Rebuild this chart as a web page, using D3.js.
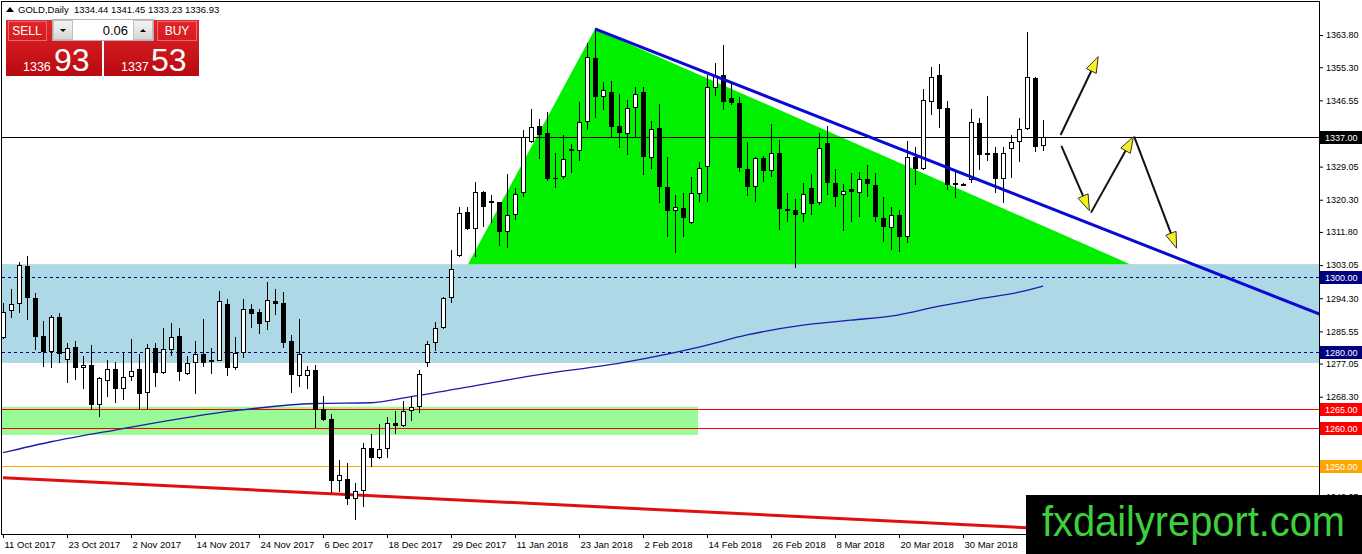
<!DOCTYPE html>
<html><head><meta charset="utf-8">
<script src="https://cdn.jsdelivr.net/npm/d3@7"></script>
<style>
html,body{margin:0;padding:0;background:#fff;overflow:hidden;}
svg{display:block;font-family:"Liberation Sans",Arial,sans-serif;}
</style></head><body>
<svg id="c" width="1362" height="554"></svg>
<script>
// ---------------- DATA ----------------
const dateLabels=["11 Oct 2017","23 Oct 2017","2 Nov 2017","14 Nov 2017","24 Nov 2017","6 Dec 2017","18 Dec 2017","29 Dec 2017","11 Jan 2018","23 Jan 2018","2 Feb 2018","14 Feb 2018","26 Feb 2018","8 Mar 2018","20 Mar 2018","30 Mar 2018"];
const labelIdx=[0,8,16,24,32,40,48,56,64,72,80,88,96,104,112,120];
const opens=[1283.79,1291.0,1292.7,1302.8,1294.3,1284.3,1280.2,1289.25,1278.0,1281.3,1275.8,1276.7,1266.1,1272.4,1275.5,1270.2,1273.6,1275.5,1269.2,1281.1,1274.5,1280.6,1284.3,1274.3,1277.3,1279.6,1277.4,1277.8,1292.8,1275.8,1279.75,1291.35,1290.7,1288.1,1293.55,1293.1,1283.0,1273.75,1273.75,1275.35,1265.0,1262.3,1246.1,1246.5,1241.2,1243.5,1254.65,1252.0,1254.4,1261.25,1260.55,1264.6,1265.65,1277.3,1282.4,1286.35,1294.3,1305.45,1316.95,1312.5,1322.25,1319.95,1319.6,1311.85,1316.3,1322.0,1335.6,1339.75,1337.85,1326.15,1326.2,1333.25,1333.15,1340.75,1357.65,1347.35,1348.8,1339.75,1337.7,1344.45,1348.8,1331.25,1339.3,1323.6,1317.4,1318.05,1314.25,1321.8,1328.85,1349.7,1353.25,1347.1,1345.8,1328.35,1323.75,1331.25,1327.95,1332.55,1317.75,1317.6,1316.5,1323.3,1319.35,1335.2,1324.8,1321.55,1323.05,1322.15,1325.7,1324.2,1315.4,1312.75,1316.3,1310.55,1331.65,1328.35,1346.0,1353.25,1344.45,1324.1,1324.45,1325.5,1340.5,1332.0,1332.55,1325.7,1333.6,1335.6,1338.9,1352.35,1334.44];
const highs=[1292.95,1296.65,1303.86,1305.4,1295.75,1288.3,1289.9,1290.3,1282.4,1283.1,1279.0,1282.0,1273.6,1278.0,1277.5,1280.2,1283.45,1279.6,1282.1,1282.4,1286.35,1287.7,1286.35,1279.0,1283.1,1288.7,1281.1,1296.2,1294.0,1284.0,1294.0,1292.7,1291.35,1298.65,1296.65,1296.0,1284.6,1288.7,1276.4,1276.7,1268.5,1263.7,1251.6,1250.7,1245.4,1256.1,1258.4,1261.1,1263.0,1264.6,1267.2,1268.3,1275.35,1283.1,1288.1,1294.7,1307.0,1318.3,1318.3,1325.05,1322.7,1321.55,1319.8,1327.1,1323.3,1338.7,1344.2,1341.5,1343.55,1332.55,1337.4,1335.0,1346.2,1361.6,1365.3,1351.5,1351.7,1348.2,1346.6,1350.15,1350.15,1341.2,1345.6,1331.65,1321.55,1322.0,1326.4,1330.35,1353.2,1356.5,1361.15,1351.05,1347.5,1335.6,1331.65,1331.85,1340.3,1336.1,1322.0,1320.4,1324.65,1327.1,1337.85,1339.75,1328.35,1324.45,1327.3,1327.7,1329.5,1327.3,1321.1,1318.45,1317.6,1335.9,1334.15,1349.5,1355.4,1356.15,1346.4,1327.7,1324.8,1344.2,1341.8,1347.7,1334.15,1334.15,1337.4,1341.8,1364.5,1352.6,1341.45];
const lows=[1283.5,1289.0,1290.4,1288.5,1280.6,1276.2,1275.8,1277.1,1271.8,1272.7,1270.2,1264.8,1262.85,1268.1,1266.7,1267.4,1272.5,1265.0,1265.0,1270.9,1274.3,1279.0,1272.5,1274.0,1269.0,1276.05,1274.3,1277.6,1273.8,1275.35,1278.4,1286.35,1284.85,1285.9,1289.9,1281.1,1269.35,1270.75,1270.2,1259.95,1262.0,1242.8,1243.2,1239.7,1235.7,1239.25,1249.8,1251.8,1252.0,1258.4,1260.4,1262.0,1264.1,1276.2,1280.4,1286.1,1293.1,1305.2,1312.3,1305.1,1313.0,1314.1,1308.1,1307.5,1315.0,1320.95,1335.2,1331.0,1325.3,1323.3,1325.7,1327.4,1330.5,1338.7,1341.8,1344.0,1336.95,1333.9,1332.1,1336.5,1326.8,1328.35,1319.5,1310.55,1306.15,1310.4,1314.0,1319.8,1319.8,1347.7,1344.0,1345.3,1327.7,1321.3,1319.8,1325.05,1326.4,1312.3,1314.5,1302.2,1314.5,1316.3,1318.9,1321.55,1318.5,1312.1,1314.5,1315.8,1321.1,1314.5,1309.2,1307.05,1306.6,1309.0,1324.2,1328.1,1342.7,1339.15,1322.9,1320.7,1324.2,1324.65,1328.15,1330.6,1322.0,1319.35,1325.95,1330.35,1338.7,1333.0,1333.23];
const closes=[1290.66,1292.7,1303.07,1294.3,1284.1,1280.2,1289.25,1279.5,1281.2,1275.8,1276.6,1266.1,1273.3,1275.5,1270.2,1273.6,1275.2,1268.9,1281.1,1274.5,1280.8,1284.1,1274.9,1277.3,1279.5,1277.3,1278.0,1293.6,1275.95,1279.75,1291.35,1290.1,1287.5,1293.8,1292.8,1282.55,1274.0,1279.6,1275.35,1264.8,1262.15,1246.1,1247.6,1241.2,1243.5,1254.65,1252.0,1254.4,1261.25,1260.55,1264.6,1265.65,1274.3,1282.2,1286.35,1294.3,1301.9,1316.7,1312.5,1322.25,1318.5,1319.5,1311.85,1316.3,1321.8,1336.95,1339.4,1337.4,1325.7,1326.1,1331.0,1333.6,1340.9,1357.9,1347.5,1349.3,1339.6,1337.85,1344.45,1348.2,1331.65,1338.9,1323.6,1317.4,1318.3,1315.4,1322.0,1328.6,1350.0,1353.0,1346.2,1345.8,1328.6,1323.75,1331.25,1327.95,1332.55,1317.75,1317.4,1316.3,1321.8,1319.2,1333.9,1324.8,1321.1,1322.7,1322.25,1325.7,1324.45,1315.7,1313.0,1316.3,1310.4,1331.5,1328.35,1346.6,1352.8,1344.2,1324.2,1324.65,1324.5,1340.75,1332.0,1332.55,1325.85,1332.55,1335.6,1338.9,1352.6,1334.15,1336.93];
const yTicks=[1363.80,1355.30,1346.55,1329.05,1320.30,1311.80,1303.05,1294.30,1285.55,1277.05,1268.30,1242.05];
const maIdx=[0,6,14,29,39,46,51,58,66,78,87,93,100,106,112,117,122,127,130];
const maVal=[1253.5,1256.4,1259.5,1264.6,1266.5,1266.7,1268.3,1270.8,1273.8,1277.5,1281.4,1284.6,1287.2,1288.5,1289.9,1292.2,1294.1,1295.9,1297.5];
const levelValues=[1337.00,1300.00,1280.00,1265.00,1260.00,1250.00];
const blueZone=[1277.2,1303.3];
const greenZone=[1258.2,1265.65]; const greenZoneEnd=86.875;
const triangle=[[74,1365.4],[58.125,1303.3],[140.875,1303.3]];
const blueTrend=[[74,1365.4],[164.6,1290.1]];
const redTrend=[[0,1246.9],[165,1229.9]];
const arrows=[[132.2,1337.4,136.9,1358.1],[132.3,1334.5,135.8,1317.4],[136.0,1316.9,141.3,1336.95],[141.4,1336.95,146.7,1307.5]];
const header={symbol:"GOLD,Daily",ohlc:"1334.44 1341.45 1333.23 1336.93"};
const panel={lot:"0.06",sellBig:"1336",sellSmall:"93",buyBig:"1337",buySmall:"53"};

// ---------------- DRAW ----------------
const svg=d3.select("#c");
const L=2,R=1319,T=2,B=534;
const x=d3.scaleLinear().domain([0,130]).range([3,1043]);
const y=d3.scaleLinear().domain([1250,1363.8]).range([466,35]);

const defs=svg.append("defs");
defs.append("clipPath").attr("id","plot").append("rect").attr("x",L).attr("y",T).attr("width",R-L).attr("height",B-T);
const rg=defs.append("linearGradient").attr("id","red").attr("x1",0).attr("y1",0).attr("x2",0).attr("y2",1);
rg.append("stop").attr("offset","0%").attr("stop-color","#e3262b");
rg.append("stop").attr("offset","100%").attr("stop-color","#b70a0f");
const gg=defs.append("linearGradient").attr("id","grey").attr("x1",0).attr("y1",0).attr("x2",0).attr("y2",1);
gg.append("stop").attr("offset","0%").attr("stop-color","#f4f4f4");
gg.append("stop").attr("offset","100%").attr("stop-color","#d6d6d6");

const plot=svg.append("g").attr("clip-path","url(#plot)");

// zones
plot.append("rect").attr("x",L).attr("width",R-L)
  .attr("y",y(blueZone[1])).attr("height",y(blueZone[0])-y(blueZone[1])).attr("fill","#add8e6");
plot.append("rect").attr("x",L).attr("width",x(greenZoneEnd)-L)
  .attr("y",y(greenZone[1])).attr("height",y(greenZone[0])-y(greenZone[1])).attr("fill","#98fb98");
// triangle
plot.append("polygon").attr("points",triangle.map(p=>[x(p[0]),y(p[1])].join(",")).join(" ")).attr("fill","#00f000");

// level lines
const lvlColor={1337:"#000",1300:"#000080",1280:"#000080",1265:"#ff0000",1260:"#ff0000",1250:"#ffa500"};
levelValues.forEach(v=>{
  const yy=Math.round(y(v))+0.5;
  const ln=plot.append("line").attr("x1",L).attr("x2",R).attr("y1",yy).attr("y2",yy)
    .attr("stroke",lvlColor[v]).attr("stroke-width",1);
  if(v===1300||v===1280) ln.attr("stroke-dasharray","3,3");
});

// moving average
plot.append("path").datum(maIdx.map((d,k)=>[d,maVal[k]]))
  .attr("d",d3.line().x(d=>x(d[0])).y(d=>y(d[1])).curve(d3.curveMonotoneX))
  .attr("fill","none").attr("stroke","#1c1ca8").attr("stroke-width",1.3);

// red trendline
plot.append("line").attr("x1",x(redTrend[0][0])).attr("y1",y(redTrend[0][1]))
  .attr("x2",x(redTrend[1][0])).attr("y2",y(redTrend[1][1]))
  .attr("stroke","#e01010").attr("stroke-width",3);

// candles
const cg=plot.append("g").attr("shape-rendering","crispEdges");
opens.forEach((o,i)=>{
  const c=closes[i],h=highs[i],l=lows[i];
  const cx=Math.round(x(i));
  cg.append("line").attr("x1",cx+0.5).attr("x2",cx+0.5).attr("y1",y(h)).attr("y2",y(l)).attr("stroke","#000");
  const top=Math.round(y(Math.max(o,c))), bot=Math.round(y(Math.min(o,c)));
  const hgt=Math.max(1,bot-top);
  if(c>=o){
    cg.append("rect").attr("x",cx-2+0.5).attr("y",top+0.5).attr("width",4).attr("height",Math.max(1,hgt-1))
      .attr("fill","#fff").attr("stroke","#000").attr("stroke-width",1);
  } else {
    cg.append("rect").attr("x",cx-2).attr("y",top).attr("width",5).attr("height",hgt).attr("fill","#000");
  }
});

// blue trendline
plot.append("line").attr("x1",x(blueTrend[0][0])).attr("y1",y(blueTrend[0][1]))
  .attr("x2",x(blueTrend[1][0])).attr("y2",y(blueTrend[1][1]))
  .attr("stroke","#0a0ad2").attr("stroke-width",3);

// arrows
arrows.forEach(a=>{
  const x1=x(a[0]),y1=y(a[1]),x2=x(a[2]),y2=y(a[3]);
  const dx=x2-x1,dy=y2-y1,len=Math.hypot(dx,dy),ux=dx/len,uy=dy/len;
  const hl=16,hw=5.5;
  plot.append("line").attr("x1",x1).attr("y1",y1).attr("x2",x2-ux*6).attr("y2",y2-uy*6)
    .attr("stroke","#111").attr("stroke-width",2);
  const bx=x2-ux*hl,by=y2-uy*hl;
  const pts=[[x2,y2],[bx-uy*hw,by+ux*hw],[bx+uy*hw,by-ux*hw]];
  plot.append("polygon").attr("points",pts.map(p=>p.join(",")).join(" "))
    .attr("fill","#f5f01e").attr("stroke","#333").attr("stroke-width",1);
});

// frame
svg.append("rect").attr("x",1.5).attr("y",1.5).attr("width",R-1.5).attr("height",B-1.5)
  .attr("fill","none").attr("stroke","#000").attr("stroke-width",1).attr("shape-rendering","crispEdges");

// y axis
const ya=svg.append("g").attr("transform",`translate(${R},0)`)
  .call(d3.axisRight(y).tickValues(yTicks).tickSize(4).tickPadding(3).tickFormat(d=>d.toFixed(2)));
ya.select(".domain").remove();
ya.selectAll("text").attr("font-size",9).attr("font-family","Liberation Sans, Arial, sans-serif").attr("fill","#000");
ya.selectAll("line").attr("stroke","#000");

// x axis
const xa=svg.append("g").attr("transform",`translate(0,${B})`)
  .call(d3.axisBottom(x).tickValues(labelIdx).tickSize(4).tickFormat((d,k)=>dateLabels[k]));
xa.select(".domain").remove();
xa.selectAll("text").attr("text-anchor","start").attr("x",1).attr("font-size",9.5)
  .attr("font-family","Liberation Sans, Arial, sans-serif").attr("fill","#000");
xa.selectAll("line").attr("stroke","#000");

// level badges
const badgeFill={1337:"#000",1300:"#000080",1280:"#000080",1265:"#ff0000",1260:"#ff0000",1250:"#ffa500"};
levelValues.forEach(v=>{
  const yy=Math.round(y(v));
  svg.append("rect").attr("x",R+1).attr("y",yy-6).attr("width",1362-R-1).attr("height",13).attr("fill",badgeFill[v]);
  svg.append("text").attr("x",R+6).attr("y",yy+3.5).attr("font-size",9).attr("fill","#fff").text(v.toFixed(2));
});

// header
svg.append("path").attr("d","M6,12 L10,7 L14,12 Z").attr("fill","#000");
svg.append("text").attr("x",18).attr("y",13).attr("font-size",9.5).attr("fill","#000")
  .text(header.symbol+"  "+header.ohlc).attr("xml:space","preserve");

// one-click panel
const pg=svg.append("g");
pg.append("rect").attr("x",6).attr("y",20).attr("width",96).attr("height",56).attr("fill","url(#red)");
pg.append("rect").attr("x",104).attr("y",20).attr("width",95).attr("height",56).attr("fill","url(#red)");
pg.append("rect").attr("x",8.5).attr("y",21.5).attr("width",38).attr("height",19).attr("fill","none").attr("stroke","#e86a6e").attr("stroke-width",1);
pg.append("rect").attr("x",157.5).attr("y",21.5).attr("width",39).attr("height",19).attr("fill","none").attr("stroke","#e86a6e").attr("stroke-width",1);
pg.append("text").attr("x",27).attr("y",35).attr("text-anchor","middle").attr("font-size",12).attr("fill","#fff").text("SELL");
pg.append("text").attr("x",177).attr("y",35).attr("text-anchor","middle").attr("font-size",12).attr("fill","#fff").text("BUY");
pg.append("rect").attr("x",52.5).attr("y",19.5).attr("width",101).attr("height",21).attr("fill","#fff").attr("stroke","#b0b0b0");
pg.append("rect").attr("x",53.5).attr("y",20.5).attr("width",19).attr("height",19).attr("fill","url(#grey)").attr("stroke","#c0c0c0");
pg.append("rect").attr("x",133.5).attr("y",20.5).attr("width",19).attr("height",19).attr("fill","url(#grey)").attr("stroke","#c0c0c0");
pg.append("path").attr("d","M60,29 L66,29 L63,32 Z").attr("fill","#000");
pg.append("path").attr("d","M140,32 L146,32 L143,29 Z").attr("fill","#000");
pg.append("text").attr("x",128).attr("y",35).attr("text-anchor","end").attr("font-size",13).attr("fill","#000").text(panel.lot);
pg.append("text").attr("x",23).attr("y",71).attr("font-size",12.5).attr("fill","#fff").text(panel.sellBig);
pg.append("text").attr("x",54).attr("y",71).attr("font-size",32).attr("fill","#fff").text(panel.sellSmall);
pg.append("text").attr("x",121).attr("y",71).attr("font-size",12.5).attr("fill","#fff").text(panel.buyBig);
pg.append("text").attr("x",151).attr("y",71).attr("font-size",32).attr("fill","#fff").text(panel.buySmall);

// logo
svg.append("rect").attr("x",1026).attr("y",495).attr("width",336).attr("height",59).attr("fill","#000");
svg.append("text").attr("x",1042).attr("y",536).attr("font-size",42).attr("fill","#3dcf3d")
  .attr("textLength",303).attr("lengthAdjust","spacingAndGlyphs").text("fxdailyreport.com");
</script>
</body></html>
